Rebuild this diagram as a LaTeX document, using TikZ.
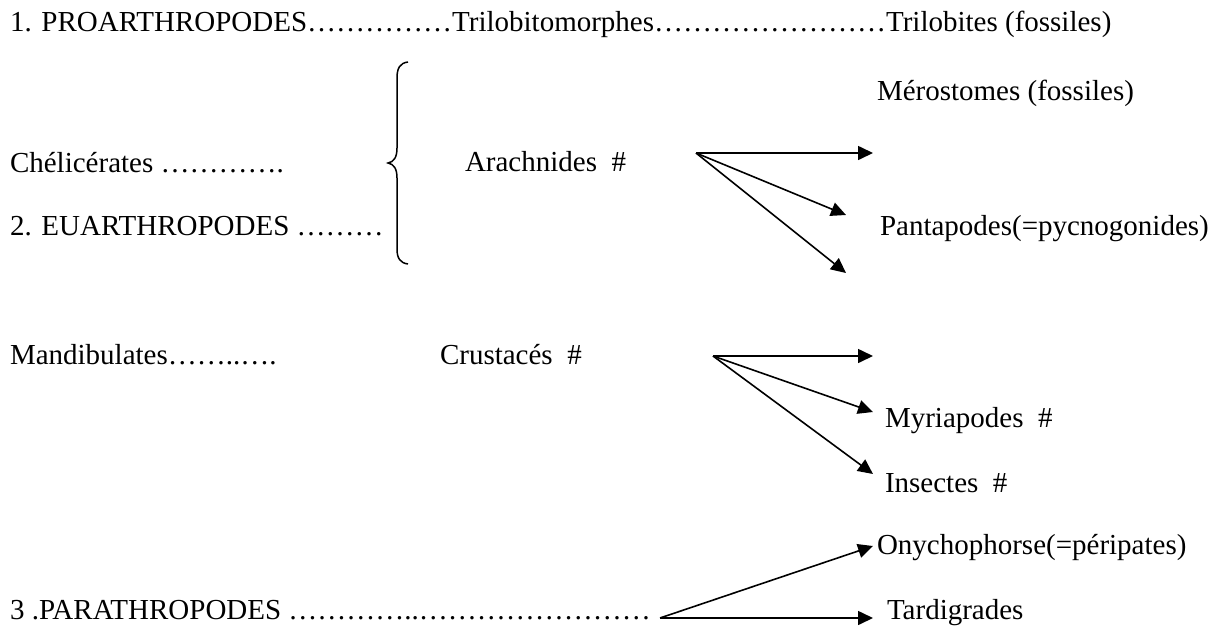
\documentclass[tikz,border=0pt]{standalone}
\usepackage{fontspec}
\setmainfont{Liberation Serif}
\usetikzlibrary{arrows.meta}
\begin{document}
\begin{tikzpicture}[x=1pt,y=-1pt,
  lbl/.style={anchor=base west,inner sep=0pt,outer sep=0pt,font=\fontsize{29}{34}\selectfont},
  arr/.style={line width=1.6pt,-{Triangle[length=15pt,width=14pt]}},
  brc/.style={line width=1.5pt}]
\useasboundingbox (0,0) rectangle (1223,627);
% texts
\node[lbl] (pro) at (10,31) {1. PROARTHROPODES……………Trilobitomorphes……………………Trilobites (fossiles)};
\node[lbl] (mero) at (877,100) {Mérostomes (fossiles)};
\node[lbl] (chel) at (10,172) {Chélicérates …………. };
\node[lbl] (arach) at (465,171) {Arachnides\ \ \#};
\node[lbl] (eu) at (10,235) {2. EUARTHROPODES ………};
\node[lbl] (panta) at (880,235) {Pantapodes(=pycnogonides)};
\node[lbl] (mandi) at (10,364) {Mandibulates……..….};
\node[lbl] (crust) at (440,364) {Crustacés\ \ \#};
\node[lbl] (myria) at (885,427) {Myriapodes\ \ \#};
\node[lbl] (insec) at (885,492) {Insectes\ \ \#};
\node[lbl] (onych) at (877,554) {Onychophorse(=péripates)};
\node[lbl] (para) at (10,619) {3 .PARATHROPODES …………..…………………… };
\node[lbl] (tardi) at (887,619) {Tardigrades};
% brace
\draw[brc] (408,62) .. controls (400,63) and (397,68) .. (397,78) -- (397,148)
  .. controls (397,157) and (394,162) .. (388,163)
  .. controls (394,164) and (397,169) .. (397,178) -- (397,249)
  .. controls (397,258) and (400,263) .. (408,264);
% arrow coordinates
\coordinate (oA) at (696,153);
\coordinate (tA1) at (873,153);
\coordinate (tA2) at (846,215);
\coordinate (tA3) at (846,273);
\coordinate (oB) at (713,356);
\coordinate (tB1) at (873,356);
\coordinate (tB2) at (873,412);
\coordinate (tB3) at (873,474);
\coordinate (oC) at (660,618);
\coordinate (tC1) at (873,546);
\coordinate (tC2) at (873,618);
\draw[arr] (oA) -- (tA1);
\draw[arr] (oA) -- (tA2);
\draw[arr] (oA) -- (tA3);
\draw[arr] (oB) -- (tB1);
\draw[arr] (oB) -- (tB2);
\draw[arr] (oB) -- (tB3);
\draw[arr] (oC) -- (tC1);
\draw[arr] (oC) -- (tC2);
\end{tikzpicture}
\end{document}
